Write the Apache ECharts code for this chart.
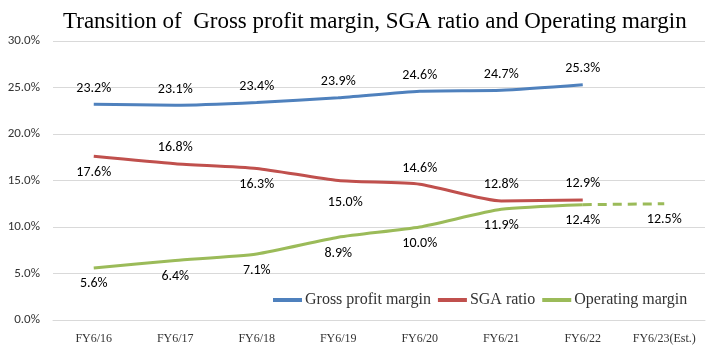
<!DOCTYPE html>
<html><head><meta charset="utf-8">
<script src="https://cdn.jsdelivr.net/npm/echarts@6/dist/echarts.min.js"></script>
<style>html,body{margin:0;padding:0;background:#fff}#c{width:715px;height:358px}</style>
</head><body><div id="c"></div>
<script>
const categories = ['FY6/16','FY6/17','FY6/18','FY6/19','FY6/20','FY6/21','FY6/22','FY6/23(Est.)'];
const grossMargin = [23.2, 23.1, 23.4, 23.9, 24.6, 24.7, 25.3, null];
const sgaRatio = [17.6, 16.8, 16.3, 15.0, 14.6, 12.8, 12.9, null];
const operatingMargin = [5.6, 6.4, 7.1, 8.9, 10.0, 11.9, 12.4, null];
const operatingEst = [null, null, null, null, null, null, 12.4, 12.5];
const sgaLabelPos = ['bottom','top','bottom','bottom','top','top','top'];
const yTicks = [0, 5, 10, 15, 20, 25, 30];

const labelFont = {fontFamily:'Carlito, "Liberation Sans", sans-serif', fontSize:14, color:'#000'};
function fmt(p){return p.value.toFixed(1)+'%';}
const sym = {symbol:'circle', symbolSize:0.1, showSymbol:true};

const chart = echarts.init(document.getElementById('c'));
chart.setOption({
  animation:false,
  title:{text:'Transition of  Gross profit margin, SGA ratio and Operating margin', left:58, top:5,
    textStyle:{fontFamily:'"Liberation Serif", serif', fontWeight:'normal', fontSize:23, color:'#000'}},
  legend:{data:['Gross profit margin','SGA ratio','Operating margin'], left:268, top:287,
    itemWidth:29, itemHeight:4, itemGap:7, icon:'rect',
    textStyle:{fontFamily:'"Liberation Serif", serif', fontSize:16, color:'#333', padding:[0,0,0,-2]}},
  grid:{left:53, right:10, top:41, bottom:38},
  xAxis:{type:'category', data:categories, boundaryGap:true,
    axisLine:{show:true, lineStyle:{color:'#d9d9d9'}}, axisTick:{show:false},
    axisLabel:{interval:0, fontFamily:'"Liberation Serif", serif', fontSize:12, color:'#333', margin:13}},
  yAxis:{type:'value', min:0, max:30, interval:5,
    axisLabel:{formatter:v=>v.toFixed(1)+'%', fontFamily:'Carlito, "Liberation Sans", sans-serif', fontSize:13, color:'#333', margin:13},
    splitLine:{lineStyle:{color:'#d9d9d9'}}},
  series:[
    {name:'Gross profit margin', type:'line', data:grossMargin, smooth:0.2, ...sym,
      lineStyle:{width:3, color:'#4F81BD'}, itemStyle:{color:'#4F81BD'},
      label:{show:true, position:'top', distance:9, formatter:fmt, ...labelFont}},
    {name:'SGA ratio', type:'line', smooth:0.2, ...sym,
      data:sgaRatio.map((v,i)=>v==null?null:{value:v,
        label:{position:sgaLabelPos[i] || 'top', distance:9, offset:(i===3?[7,6]:[0,0])}}),
      lineStyle:{width:3, color:'#C0504D'}, itemStyle:{color:'#C0504D'},
      label:{show:true, formatter:fmt, ...labelFont}},
    {name:'Operating margin', type:'line', data:operatingMargin, smooth:0.2, ...sym,
      lineStyle:{width:3, color:'#9BBB59'}, itemStyle:{color:'#9BBB59'},
      label:{show:true, position:'bottom', distance:9, formatter:fmt, ...labelFont}},
    {name:'Operating margin (Est.)', type:'line', ...sym,
      data:operatingEst.map((v,i)=>v==null?null:{value:v, label:{show:i===7}}),
      lineStyle:{width:3, color:'#9BBB59', type:[9,6]}, itemStyle:{color:'#9BBB59'},
      label:{show:true, position:'bottom', distance:9, formatter:fmt, ...labelFont}}
  ]
});
</script></body></html>
